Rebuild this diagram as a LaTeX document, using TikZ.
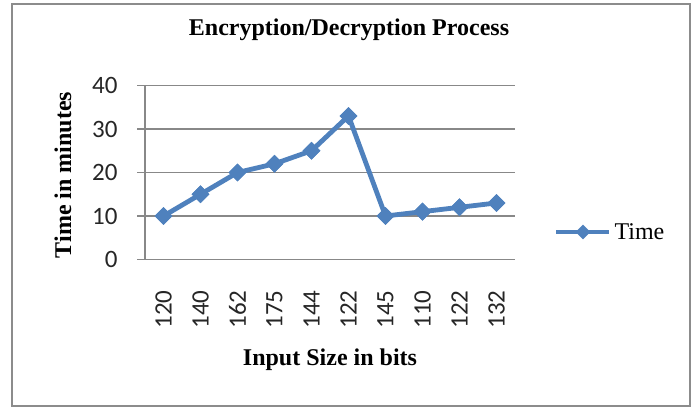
\documentclass[tikz,border=0pt]{standalone}
\usepackage{fontspec}
\setmainfont{Liberation Serif}
\newfontfamily\calib{Carlito}
\usepackage{xcolor}
\usepackage{tikz}
\usetikzlibrary{shapes.geometric}
\definecolor{series}{HTML}{4F81BD}
\definecolor{grid}{HTML}{888888}
\definecolor{frame}{HTML}{8C8C8C}
\tikzset{
  frameline/.style={draw=frame, line width=2.2pt},
  gridline/.style={draw=grid, line width=1.3pt},
  sline/.style={draw=series, line width=4.8pt, line join=miter},
  diam/.style={diamond, fill=series, inner sep=0pt, minimum size=18pt},
  ttl/.style={font=\fontsize{24}{26}\selectfont\bfseries},
  lbl/.style={font=\fontsize{24}{26}\selectfont},
  tick/.style={font=\calib\fontsize{25}{27}\selectfont, text=black!85}
}

\begin{document}
\begin{tikzpicture}[x=1pt, y=-1pt]
  \useasboundingbox (0,0) rectangle (694,408);
  \draw[frameline] (12,4) rectangle (690,406);

  % title and axis titles
  \node[ttl] (title) at (349,30) {Encryption/Decryption Process};
  \node[ttl, rotate=90] (ytitle) at (63,175) {Time in minutes};
  \node[ttl] (xtitle) at (330,360) {Input Size in bits};

  % grid and value axis
  \foreach \v/\yy in {0/259.5, 10/216, 20/172.5, 30/129, 40/85.5} {
    \draw[gridline] (137,\yy) -- (515,\yy);
    \node[tick, anchor=east] at (121,\yy) {\v};
  }
  \draw[gridline] (145,85.5) -- (145,259.5);

  % category labels
  \foreach \c [count=\i] in {120,140,162,175,144,122,145,110,122,132} {
    \node[tick, rotate=90, anchor=east] (c\i) at (126.5+37*\i,287) {\c};
  }

  % data points
  \foreach \t [count=\i] in {10,15,20,22,25,33,10,11,12,13} {
    \node[diam] (p\i) at (126.5+37*\i,259.5-4.35*\t) {};
  }
  \draw[sline] (p1.center) -- (p2.center) -- (p3.center) -- (p4.center)
    -- (p5.center) -- (p6.center) -- (p7.center) -- (p8.center)
    -- (p9.center) -- (p10.center);
  \foreach \i in {1,...,10} \node[diam] at (p\i) {};

  % legend
  \coordinate (la) at (556,232);
  \coordinate (lb) at (609,232);
  \draw[sline] (la) -- (lb);
  \node[diam, minimum size=15pt] (lm) at (583,232) {};
  \node[lbl, anchor=west] (legend) at (611,232) {Time};
\end{tikzpicture}
\end{document}
